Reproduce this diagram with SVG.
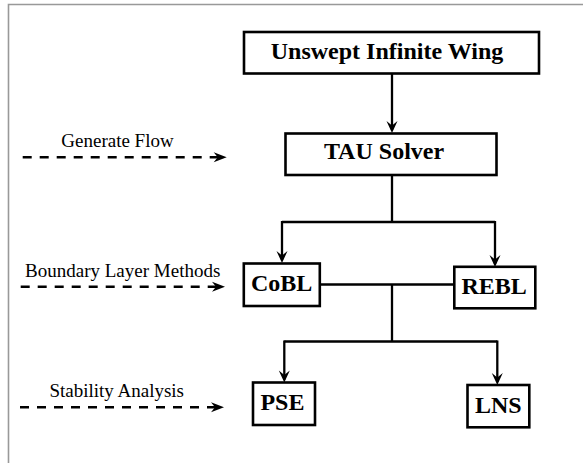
<svg xmlns="http://www.w3.org/2000/svg" width="583" height="463" viewBox="0 0 583 463">
  <style>
    .box { fill: #ffffff; stroke: #000000; stroke-width: 2.6; }
    .title { font-family: "Liberation Serif", "Times New Roman", serif; font-weight: bold; font-size: 24px; fill: #000000; text-anchor: middle; }
    .label { font-family: "Liberation Serif", "Times New Roman", serif; font-size: 19px; fill: #000000; text-anchor: middle; }
    .wire { fill: none; stroke: #000000; stroke-width: 2.3; }
    .dash { fill: none; stroke: #000000; stroke-width: 2.4; stroke-dasharray: 9 8; }
    .frame { fill: none; stroke: #999999; stroke-width: 1.6; }
  </style>
  <defs>
    <marker id="head" viewBox="-14 -7 16 14" markerWidth="16" markerHeight="14" refX="-3" refY="0" orient="auto" markerUnits="userSpaceOnUse">
      <path d="M-12,-5.5 L0,0 L-12,5.5 L-7.5,0 z" fill="#000000"/>
    </marker>
    <marker id="dhead" viewBox="-14 -7 16 14" markerWidth="16" markerHeight="14" refX="-3" refY="0" orient="auto" markerUnits="userSpaceOnUse">
      <path d="M-13,-5 L0,0 L-13,5 L-9,0 z" fill="#000000"/>
    </marker>
  </defs>

  <rect width="583" height="463" fill="#ffffff"/>
  <!-- page frame -->
  <path class="frame" d="M8.5,463 L8.5,4.5 L583,4.5"/>

  <!-- connectors -->
  <g id="connectors">
    <path class="wire" d="M392,73.5 L392,130" marker-end="url(#head)"/>
    <path class="wire" d="M392,175 L392,222 M282,222 L495,222"/>
    <path class="wire" d="M282,221 L282,260" marker-end="url(#head)"/>
    <path class="wire" d="M495,221 L495,264" marker-end="url(#head)"/>
    <path class="wire" d="M320,284.5 L454,284.5 M392,284.5 L392,341.5 M284.3,341.5 L497.3,341.5"/>
    <path class="wire" d="M284.3,340.5 L284.3,379.5" marker-end="url(#head)"/>
    <path class="wire" d="M497.3,340.5 L497.3,382" marker-end="url(#head)"/>

    <path class="dash" d="M22.7,157.3 L223.7,157.3" marker-end="url(#dhead)"/>
    <path class="dash" d="M20.7,286.7 L222,286.7" marker-end="url(#dhead)"/>
    <path class="dash" d="M20,407.3 L221,407.3" marker-end="url(#dhead)"/>
  </g>

  <!-- side labels -->
  <g id="label-flow"><text class="label" x="117.5" y="146.7">Generate Flow</text></g>
  <g id="label-bl"><text class="label" x="122.7" y="277">Boundary Layer Methods</text></g>
  <g id="label-stability"><text class="label" x="116.7" y="397.3">Stability Analysis</text></g>

  <!-- nodes -->
  <g id="wing">
    <rect class="box" x="244" y="32" width="295" height="41.5"/>
    <text class="title" x="387" y="59">Unswept Infinite Wing</text>
  </g>
  <g id="tau">
    <rect class="box" x="285.5" y="133.5" width="211" height="41.5"/>
    <text class="title" x="384" y="158.5">TAU Solver</text>
  </g>
  <g id="cobl">
    <rect class="box" x="243.8" y="263.5" width="76" height="42.5"/>
    <text class="title" x="281.7" y="291">CoBL</text>
  </g>
  <g id="rebl">
    <rect class="box" x="454.3" y="266.8" width="81" height="41.5"/>
    <text class="title" x="494.2" y="293.5">REBL</text>
  </g>
  <g id="pse">
    <rect class="box" x="253" y="382.5" width="62" height="42.5"/>
    <text class="title" x="282.4" y="410">PSE</text>
  </g>
  <g id="lns">
    <rect class="box" x="467.5" y="385" width="61.8" height="42.3"/>
    <text class="title" x="498.3" y="412.5">LNS</text>
  </g>
</svg>
